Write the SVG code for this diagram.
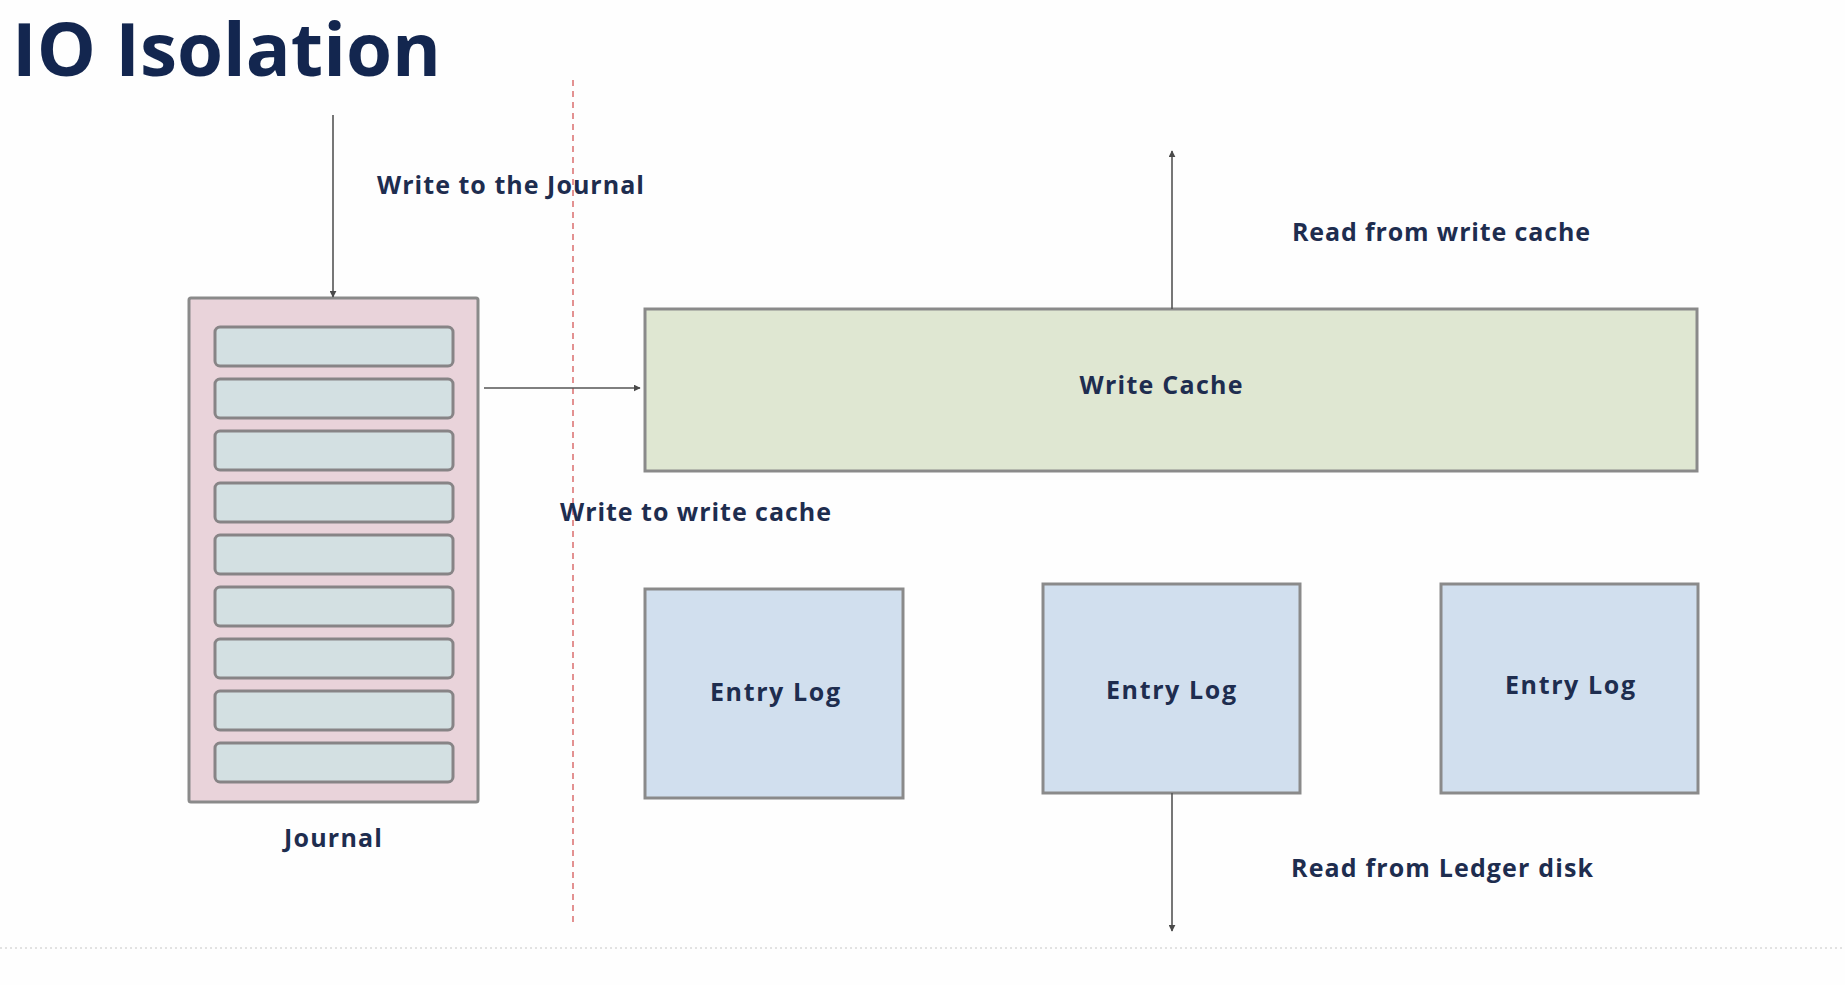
<svg xmlns="http://www.w3.org/2000/svg" width="1845" height="985" viewBox="0 0 1845 985">
<defs>
<marker id="ah" viewBox="0 0 10 10" refX="9" refY="5" markerWidth="7" markerHeight="7" markerUnits="userSpaceOnUse" orient="auto">
<path d="M0,0 L10,5 L0,10 z" fill="#4a4a4a"/>
</marker>
<style>
.lbl{font-family:"Open Sans",Lato,"Liberation Sans",sans-serif;font-weight:700;font-size:25px;fill:#1e2d4f}
.title{font-family:"Open Sans",Lato,"Liberation Sans",sans-serif;font-weight:700;font-size:74px;fill:#13264f}
.box{stroke:#8a8a8a;stroke-width:3}
.slot{fill:#d3e0e2;stroke:#878486;stroke-width:3}
.conn{stroke:#555;stroke-width:1.6;fill:none;marker-end:url(#ah)}
</style>
</defs>
<rect x="0" y="0" width="1845" height="985" fill="#fefefe"/>
<text class="title" x="12" y="76" textLength="429" lengthAdjust="spacingAndGlyphs">IO Isolation</text>
<line x1="573" y1="80" x2="573" y2="924" stroke="#e39191" stroke-width="2" stroke-dasharray="6 5"/>
<line x1="0" y1="948" x2="1845" y2="948" stroke="#e2e2e2" stroke-width="2" stroke-dasharray="2 3"/>
<g id="journal">
<rect class="box" x="189" y="298" width="289" height="504" rx="2" fill="#e9d3da"/>
<rect class="slot" x="215" y="327" width="238" height="39" rx="5"/>
<rect class="slot" x="215" y="379" width="238" height="39" rx="5"/>
<rect class="slot" x="215" y="431" width="238" height="39" rx="5"/>
<rect class="slot" x="215" y="483" width="238" height="39" rx="5"/>
<rect class="slot" x="215" y="535" width="238" height="39" rx="5"/>
<rect class="slot" x="215" y="587" width="238" height="39" rx="5"/>
<rect class="slot" x="215" y="639" width="238" height="39" rx="5"/>
<rect class="slot" x="215" y="691" width="238" height="39" rx="5"/>
<rect class="slot" x="215" y="743" width="238" height="39" rx="5"/>
<text class="lbl" x="333" y="847" text-anchor="middle" textLength="98" lengthAdjust="spacing">Journal</text>
</g>
<g id="write-cache">
<rect class="box" x="645" y="309" width="1052" height="162" fill="#dfe7d2"/>
<text class="lbl" x="1161" y="394" text-anchor="middle" textLength="163" lengthAdjust="spacing">Write Cache</text>
</g>
<g id="entry-log-1">
<rect class="box" x="645" y="589" width="258" height="209" fill="#d1dfee"/>
<text class="lbl" x="775" y="701" text-anchor="middle" textLength="130" lengthAdjust="spacing">Entry Log</text>
</g>
<g id="entry-log-2">
<rect class="box" x="1043" y="584" width="257" height="209" fill="#d1dfee"/>
<text class="lbl" x="1171" y="699" text-anchor="middle" textLength="130" lengthAdjust="spacing">Entry Log</text>
</g>
<g id="entry-log-3">
<rect class="box" x="1441" y="584" width="257" height="209" fill="#d1dfee"/>
<text class="lbl" x="1570" y="694" text-anchor="middle" textLength="130" lengthAdjust="spacing">Entry Log</text>
</g>
<g id="connectors">
<line class="conn" x1="333" y1="115" x2="333" y2="297"/>
<line class="conn" x1="484" y1="388" x2="640" y2="388"/>
<line class="conn" x1="1172" y1="309" x2="1172" y2="151"/>
<line class="conn" x1="1172" y1="793" x2="1172" y2="931"/>
</g>
<g id="labels">
<text class="lbl" x="377" y="194" textLength="267" lengthAdjust="spacing">Write to the Journal</text>
<text class="lbl" x="560" y="521" textLength="271" lengthAdjust="spacing">Write to write cache</text>
<text class="lbl" x="1292" y="241" textLength="298" lengthAdjust="spacing">Read from write cache</text>
<text class="lbl" x="1291" y="877" textLength="302" lengthAdjust="spacing">Read from Ledger disk</text>
</g>
</svg>
